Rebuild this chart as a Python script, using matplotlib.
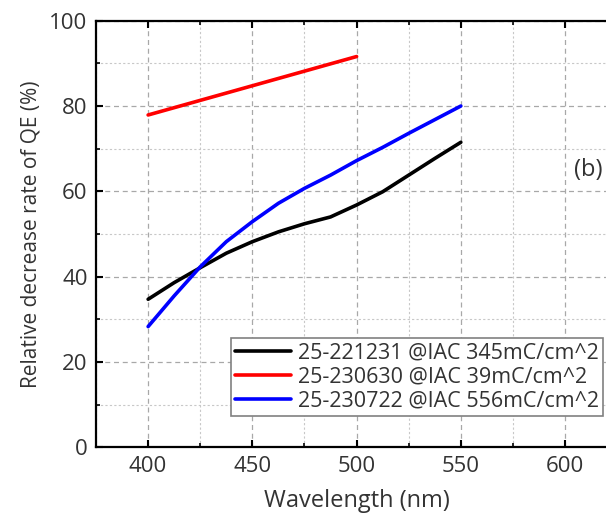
import matplotlib.pyplot as plt
from matplotlib.ticker import MultipleLocator

plt.rcParams['font.family'] = ['Open Sans', 'DejaVu Sans']
plt.rcParams['xtick.labelsize'] = 16
plt.rcParams['ytick.labelsize'] = 16

# Wavelength (nm)
wl = [400, 412.5, 425, 437.5, 450, 462.5, 475, 487.5, 500, 512.5, 525, 537.5, 550]
wl_red = [400, 500]

# Relative decrease rate of QE (%)
qe_221231 = [34.7, 38.6, 42.1, 45.5, 48.2, 50.5, 52.4, 54.0, 56.8, 59.9, 63.8, 67.7, 71.5]
qe_230630 = [77.9, 91.6]
qe_230722 = [28.3, 35.5, 42.3, 48.2, 52.9, 57.2, 60.7, 63.8, 67.2, 70.3, 73.6, 76.8, 80.0]

labels = ['25-221231 @IAC 345mC/cm^2',
          '25-230630 @IAC 39mC/cm^2',
          '25-230722 @IAC 556mC/cm^2']

fig = plt.figure(figsize=(6.06, 5.15), dpi=100)
ax = fig.add_axes([96 / 606, 1 - 447.3 / 515, (617.2 - 96) / 606, (447.3 - 20.7) / 515])

ax.plot(wl, qe_221231, color='black', lw=2.6, solid_capstyle='round', label=labels[0])
ax.plot(wl_red, qe_230630, color='#ff0000', lw=2.6, solid_capstyle='round', label=labels[1])
ax.plot(wl, qe_230722, color='#0000ff', lw=2.6, solid_capstyle='round', label=labels[2])

ax.set_xlim(375, 625)
ax.set_ylim(0, 100)
ax.xaxis.set_major_locator(MultipleLocator(50))
ax.xaxis.set_minor_locator(MultipleLocator(25))
ax.yaxis.set_major_locator(MultipleLocator(20))
ax.yaxis.set_minor_locator(MultipleLocator(10))

ax.grid(which='major', color='#a8a8a8', linestyle=(0, (4, 3)), lw=0.9)
ax.grid(which='minor', color='#c8c8c8', linestyle=(0, (2, 2)), lw=0.8)
ax.set_axisbelow(True)

ax.tick_params(which='major', direction='in', length=5, width=1.5,
               top=True, right=True, colors='black', pad=6)
ax.tick_params(which='minor', direction='in', length=3, width=1.2, top=True, right=True)
for tl in ax.get_xticklabels() + ax.get_yticklabels():
    tl.set_color('#333333')
    tl.set_fontsize(16)
for s in ax.spines.values():
    s.set_linewidth(1.6)

ax.set_xlabel('Wavelength (nm)', fontsize=17, color='#333333', labelpad=9)
ax.set_ylabel('Relative decrease rate of QE (%)', fontsize=15, color='#333333', labelpad=6)

fig.text(588 / 606, 1 - 170 / 515, '(b)', fontsize=17, color='#333333',
         ha='center', va='center')

leg = ax.legend(loc='upper right', bbox_to_anchor=(603 / 606, 1 - 338 / 515),
                bbox_transform=fig.transFigure, fontsize=15.5, frameon=True,
                fancybox=False, framealpha=1, edgecolor='#808080',
                handlelength=2.6, handletextpad=0.3, borderpad=0.2,
                labelspacing=0.15, borderaxespad=0)
leg.get_frame().set_linewidth(1.2)
for t in leg.get_texts():
    t.set_color('#333333')

fig.savefig('out.png', dpi=100)
